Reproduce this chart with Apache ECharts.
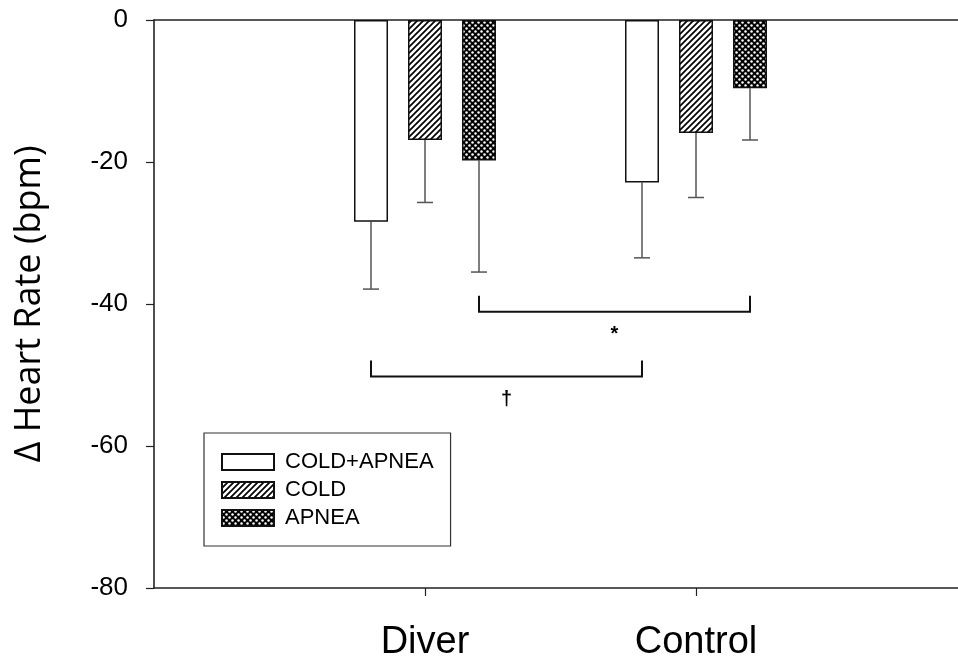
<!DOCTYPE html>
<html>
<head>
<meta charset="utf-8">
<script src="https://cdn.jsdelivr.net/npm/echarts@6/dist/echarts.min.js"></script>
<style>
html,body{margin:0;padding:0;background:#fff;}
#chart{width:958px;height:659px;}
</style>
</head>
<body>
<div id="chart"></div>
<script>
// ---- data ----
const categories = ['Diver', 'Control'];
const seriesNames = ['COLD+APNEA', 'COLD', 'APNEA'];
const coldApneaMean = [-28.4, -22.9];
const coldApneaSD = [9.5, 10.6];
const coldMean = [-16.9, -15.9];
const coldSD = [8.8, 9.1];
const apneaMean = [-19.8, -9.6];
const apneaSD = [15.7, 7.3];
const yMin = -80, yMax = 0, yStep = 20;
const yTitle = 'Δ Heart Rate (bpm)';
// significance brackets: [category index, series index]
const bracketFrom = [[0, 0], [0, 2]];
const bracketTo = [[1, 0], [1, 2]];
const bracketLevels = [-50.2, -41.1];
const bracketLabels = ['†', '*'];

// ---- style ----
const BAR_W = 34, BAR_GAP = 20, STEP = BAR_W + BAR_GAP;
const LINE = '#222';

function hatchPattern() {
  const s = 6;
  const c = document.createElement('canvas'); c.width = s; c.height = s;
  const g = c.getContext('2d');
  g.fillStyle = '#fff'; g.fillRect(0, 0, s, s);
  g.strokeStyle = '#000'; g.lineWidth = 1.7;
  g.beginPath();
  g.moveTo(-1, s + 1); g.lineTo(s + 1, -1);
  g.moveTo(-1, 1); g.lineTo(1, -1);
  g.moveTo(s - 1, s + 1); g.lineTo(s + 1, s - 1);
  g.stroke();
  return c;
}
function dotPattern() {
  const s = 6;
  const c = document.createElement('canvas'); c.width = s; c.height = s;
  const g = c.getContext('2d');
  g.fillStyle = '#000'; g.fillRect(0, 0, s, s);
  g.fillStyle = '#fff';
  [[1.5, 1.5], [4.5, 4.5]].forEach(p => { g.beginPath(); g.arc(p[0], p[1], 1.25, 0, Math.PI * 2); g.fill(); });
  return c;
}
const fills = ['#ffffff', { image: hatchPattern(), repeat: 'repeat' }, { image: dotPattern(), repeat: 'repeat' }];
const means = [coldApneaMean, coldMean, apneaMean];
const sds = [coldApneaSD, coldSD, apneaSD];
const axisCats = [''].concat(categories, ['']);

const barSeries = seriesNames.map((name, s) => ({
  name: name,
  type: 'bar',
  barWidth: BAR_W,
  barGap: (BAR_GAP / BAR_W * 100).toFixed(1) + '%',
  data: means[s].map((v, i) => [i + 1, v]),
  itemStyle: { color: fills[s], borderColor: '#111', borderWidth: 1.5 },
  emphasis: { disabled: true },
  z: 3
}));

const errData = [];
seriesNames.forEach((n, s) => means[s].forEach((v, i) => errData.push([i + 1, s, v, sds[s][i]])));

const errSeries = {
  name: 'err', type: 'custom', data: errData, encode: { x: 0, y: 2 }, clip: false, z: 2,
  renderItem: function (params, api) {
    const top = api.coord([api.value(0), api.value(2)]);
    const bot = api.coord([api.value(0), api.value(2) - api.value(3)]);
    const x = top[0] + (api.value(1) - 1) * STEP;
    const st = { stroke: '#555', lineWidth: 1.5, fill: 'none' };
    return { type: 'group', children: [
      { type: 'line', shape: { x1: x, y1: top[1], x2: x, y2: bot[1] }, style: st },
      { type: 'line', shape: { x1: x - 8, y1: bot[1], x2: x + 8, y2: bot[1] }, style: st }
    ] };
  }
};

const brData = bracketFrom.map((f, i) => [f[0] + 1, f[1], bracketTo[i][0] + 1, bracketTo[i][1], bracketLevels[i]]);
const bracketSeries = {
  name: 'brackets', type: 'custom', data: brData, encode: { x: 0, y: 4 }, clip: false, z: 4,
  renderItem: function (params, api) {
    const x1 = api.coord([api.value(0), 0])[0] + (api.value(1) - 1) * STEP;
    const x2 = api.coord([api.value(2), 0])[0] + (api.value(3) - 1) * STEP;
    const y = api.coord([api.value(0), api.value(4)])[1];
    return { type: 'group', children: [
      { type: 'polyline', shape: { points: [[x1, y - 16], [x1, y], [x2, y], [x2, y - 16]] },
        style: { stroke: '#111', lineWidth: 2, fill: 'none' } },
      { type: 'text', x: (x1 + x2) / 2, y: y + 23,
        style: { text: bracketLabels[params.dataIndex], fill: '#000', font: 'bold 20px "Liberation Sans"', align: 'center', verticalAlign: 'middle' } }
    ] };
  }
};

const chart = echarts.init(document.getElementById('chart'), null, { renderer: 'canvas' });
chart.setOption({
  animation: false,
  backgroundColor: '#fff',
  grid: { left: 154, top: 20, width: 813, bottom: 71, containLabel: false, outerBoundsMode: 'none' },
  legend: {
    data: seriesNames, orient: 'vertical', left: 204, top: 433,
    padding: [18, 17, 17, 17], borderColor: '#333', borderWidth: 1.2,
    icon: 'rect', itemWidth: 52, itemHeight: 16, itemGap: 6, selectedMode: false,
    textStyle: { fontFamily: 'Liberation Sans', fontSize: 22, color: '#000', padding: [0, 0, 0, 6] }
  },
  xAxis: [{
    type: 'category', data: axisCats, boundaryGap: false,
    axisLine: { onZero: false, lineStyle: { color: LINE, width: 1.6 } },
    axisTick: { interval: function (idx) { return idx === 1 || idx === 2; }, length: 8, lineStyle: { color: LINE, width: 1.2 } },
    axisLabel: { interval: 0, margin: 36, fontFamily: 'Liberation Sans', fontSize: 38, color: '#000' },
    splitLine: { show: false }
  }, {
    type: 'category', data: axisCats, boundaryGap: false, position: 'top',
    axisLine: { onZero: false, lineStyle: { color: LINE, width: 1.6 } },
    axisTick: { show: false }, axisLabel: { show: false }, splitLine: { show: false }
  }],
  yAxis: {
    type: 'value', min: yMin, max: yMax, interval: yStep,
    name: yTitle, nameLocation: 'middle', nameGap: 106,
    nameTextStyle: { fontFamily: 'Open Sans', fontSize: 36, color: '#000' },
    axisLine: { show: true, lineStyle: { color: LINE, width: 1.6 } },
    axisTick: { show: true, length: 8, lineStyle: { color: LINE, width: 1.2 } },
    axisLabel: { margin: 26, fontFamily: 'Liberation Sans', fontSize: 26, color: '#000' },
    splitLine: { show: false }
  },
  series: barSeries.concat([errSeries, bracketSeries])
});
</script>
</body>
</html>
